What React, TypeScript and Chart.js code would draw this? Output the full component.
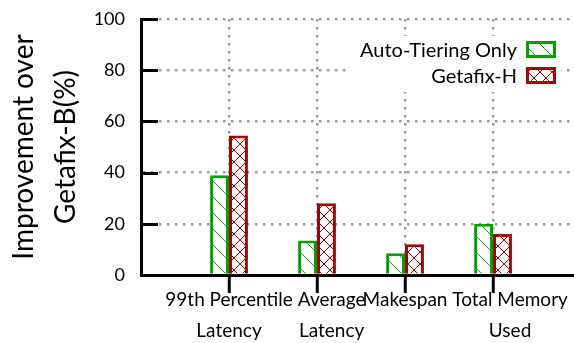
import React, { useEffect, useRef } from "react";
import { Chart, registerables } from "chart.js";

Chart.register(...registerables);

// ---- data ----
const categories = ["99th Percentile Latency", "Average Latency", "Makespan", "Total Memory Used"];
const tickLabels: string[][] = [
  ["99th Percentile", "Latency"],
  ["      Average", "      Latency"],
  ["Makespan"],
  ["       Total Memory", "       Used"],
];
const seriesNames = ["Auto-Tiering Only", "Getafix-H"];
const autoTiering = [39, 13.5, 8.5, 20];
const getafixH = [54.5, 28, 12, 16];
const yTickValues = [0, 20, 40, 60, 80, 100];

const GREEN = "#00a000";
const RED = "#a80000";
const FONT = "Lato";

function makePattern(color: string, kind: "diag" | "cross"): CanvasPattern | string {
  const s = kind === "diag" ? 16 : 12;
  const c = document.createElement("canvas");
  c.width = s;
  c.height = s;
  const g = c.getContext("2d");
  if (!g) return "#fff";
  g.fillStyle = "#fff";
  g.fillRect(0, 0, s, s);
  g.strokeStyle = color;
  g.lineWidth = 1;
  g.beginPath();
  g.moveTo(-2, -2);
  g.lineTo(s + 2, s + 2);
  if (kind === "cross") {
    g.moveTo(s + 2, -2);
    g.lineTo(-2, s + 2);
  }
  g.stroke();
  return g.createPattern(c, "repeat") || "#fff";
}

const innerTicks = {
  id: "innerTicks",
  afterDraw(chart: any) {
    const y = chart.scales.y;
    const { left } = chart.chartArea;
    const ctx = chart.ctx;
    ctx.save();
    ctx.strokeStyle = "#000";
    ctx.lineWidth = 3;
    y.ticks.forEach((t: any) => {
      if (t.value === 0) return;
      const py = Math.round(y.getPixelForValue(t.value)) + 0.5;
      ctx.beginPath();
      ctx.moveTo(left, py);
      ctx.lineTo(left + 17, py);
      ctx.stroke();
    });
    ctx.restore();
  },
};

const insideLegend = {
  id: "insideLegend",
  afterDraw(chart: any) {
    const { ctx, chartArea: a } = chart;
    ctx.save();
    ctx.fillStyle = "#fff";
    ctx.fillRect(a.right - 223, a.top + 17, 210, 56);
    ctx.font = `20px ${FONT}`;
    ctx.textAlign = "right";
    ctx.textBaseline = "middle";
    chart.data.datasets.forEach((ds: any, i: number) => {
      const cy = a.top + 30.5 + i * 26;
      const bx = a.right - 48;
      const bw = 30;
      const bh = 17;
      ctx.fillStyle = ds.backgroundColor;
      ctx.fillRect(bx, cy - bh / 2, bw, bh);
      ctx.strokeStyle = ds.borderColor;
      ctx.lineWidth = 3;
      ctx.strokeRect(bx + 1.5, cy - bh / 2 + 1.5, bw - 3, bh - 3);
      ctx.fillStyle = "#000";
      ctx.fillText(ds.label, bx - 9, cy + 1);
    });
    ctx.restore();
  },
};

export default function App() {
  const ref = useRef<HTMLCanvasElement | null>(null);

  useEffect(() => {
    if (!ref.current) return;
    const chart = new Chart(ref.current, {
      type: "bar",
      data: {
        labels: categories,
        datasets: [
          {
            label: seriesNames[0],
            data: autoTiering.map((y, i) => ({ x: i, y })),
            backgroundColor: makePattern(GREEN, "diag") as any,
            borderColor: GREEN,
            borderWidth: 3,
            categoryPercentage: 0.43,
            barPercentage: 1,
          },
          {
            label: seriesNames[1],
            data: getafixH.map((y, i) => ({ x: i, y })),
            backgroundColor: makePattern(RED, "cross") as any,
            borderColor: RED,
            borderWidth: 3,
            categoryPercentage: 0.43,
            barPercentage: 1,
          },
        ],
      },
      options: {
        responsive: false,
        animation: false,
        layout: { padding: { top: 19, left: 0, right: 0, bottom: 0 } },
        plugins: {
          legend: { display: false },
          tooltip: { enabled: false },
        },
        scales: {
          x: {
            type: "linear",
            min: -1,
            max: 3.92,
            offset: false,
            grid: {
              offset: false,
              color: "#999",
              lineWidth: 2.5,
              drawTicks: true,
              tickLength: 18,
              tickWidth: 3,
              tickColor: "#000",
            },
            border: { display: true, color: "#000", width: 3, dash: [2.5, 5.5] },
            afterBuildTicks: (scale: any) => {
              scale.ticks = tickLabels.map((_, i) => ({ value: i }));
            },
            afterFit: (scale: any) => {
              scale.height = 68;
            },
            ticks: {
              autoSkip: false,
              maxRotation: 0,
              minRotation: 0,
              padding: -8.5,
              color: "#000",
              font: { family: FONT, size: 19, lineHeight: 31 / 19 },
              callback: (v: any) => tickLabels[v as number] ?? "",
            },
          },
          y: {
            min: 0,
            max: 100,
            afterBuildTicks: (scale: any) => {
              scale.ticks = yTickValues.map((v) => ({ value: v }));
            },
            afterFit: (scale: any) => {
              scale.width = 141;
              scale.paddingTop = 0;
              scale.paddingBottom = 0;
            },
            grid: {
              color: "#999",
              lineWidth: 2.5,
              drawTicks: false,
            },
            border: { display: true, color: "#000", width: 3, dash: [2.5, 5.5] },
            ticks: {
              padding: 16,
              color: "#000",
              font: { family: FONT, size: 18 },
            },
            title: {
              display: true,
              text: ["Improvement over", "Getafix-B(%)"],
              color: "#000",
              font: { family: FONT, size: 28, lineHeight: 42 / 28 },
              padding: { top: 3, bottom: 0 },
            },
          },
        },
      },
      plugins: [innerTicks, insideLegend],
    });
    return () => chart.destroy();
  }, []);

  return (
    <div style={{ position: "fixed", left: 0, top: 0, width: 574, height: 343, background: "#fff" }}>
      <canvas ref={ref} width={574} height={343} />
    </div>
  );
}
